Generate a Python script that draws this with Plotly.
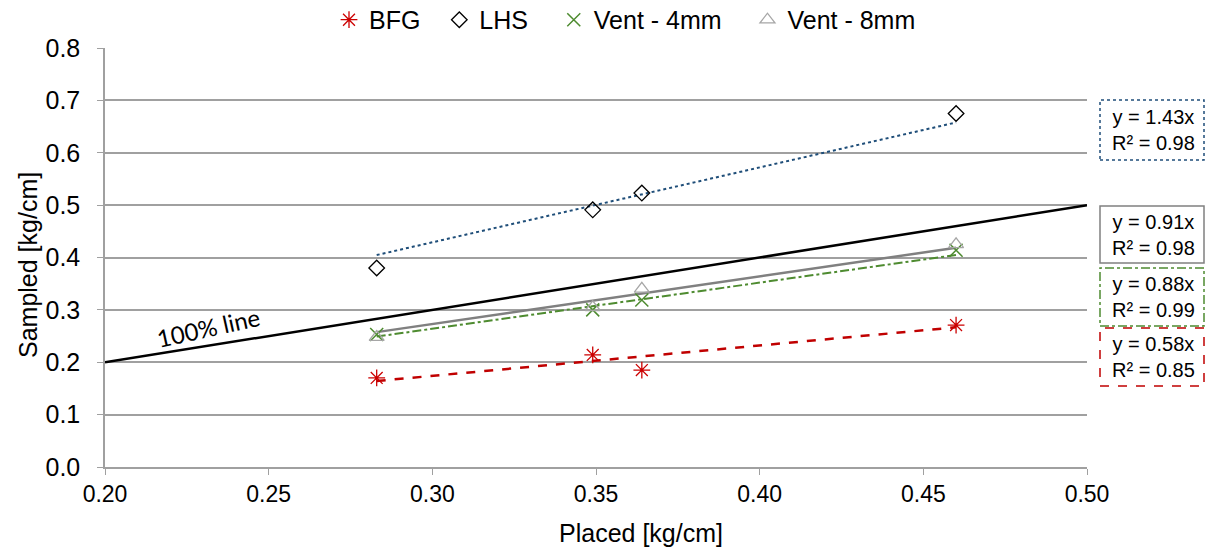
import plotly.graph_objects as go

placed = [0.283, 0.349, 0.364, 0.460]
bfg = [0.170, 0.214, 0.185, 0.271]
lhs = [0.380, 0.491, 0.523, 0.675]
vent4 = [0.253, 0.300, 0.319, 0.414]
vent8 = [0.248, 0.305, 0.340, 0.425]

slopes = {"LHS": 1.43, "Vent - 8mm": 0.91, "Vent - 4mm": 0.88, "BFG": 0.58}
r2 = {"LHS": 0.98, "Vent - 8mm": 0.98, "Vent - 4mm": 0.99, "BFG": 0.85}

line100_x = [0.20, 0.50]

FONT = "Liberation Sans, Arial, sans-serif"
NB = "\u00a0"
fig = go.Figure()

# 100% line
fig.add_trace(go.Scatter(x=line100_x, y=line100_x, mode="lines",
                         line=dict(color="black", width=2.5), showlegend=False, hoverinfo="skip"))

xmin, xmax = min(placed), max(placed)
trend_styles = {
    "LHS": dict(color="#1F4E79", width=2, dash="dot"),
    "Vent - 8mm": dict(color="#808080", width=2.5, dash="solid"),
    "Vent - 4mm": dict(color="#4E8B30", width=2, dash="dashdot"),
    "BFG": dict(color="#C00000", width=2.5, dash="dash"),
}
for name in ["LHS", "Vent - 4mm", "Vent - 8mm", "BFG"]:
    s = slopes[name]
    fig.add_trace(go.Scatter(x=[xmin, xmax], y=[s * xmin, s * xmax], mode="lines",
                             line=trend_styles[name], showlegend=False, hoverinfo="skip"))

series = [
    ("BFG", NB * 2, bfg, dict(symbol="asterisk-open", color="#CC0000", size=14, line=dict(color="#CC0000", width=1.3))),
    ("LHS", NB * 3, lhs, dict(symbol="diamond-open", color="black", size=12, line=dict(color="black", width=1.3))),
    ("Vent - 4mm", NB * 3, vent4, dict(symbol="x-thin-open", color="#4E8B30", size=13, line=dict(color="#4E8B30", width=1.5))),
    ("Vent - 8mm", "", vent8, dict(symbol="triangle-up-open", color="#A6A6A6", size=13, line=dict(color="#A6A6A6", width=1.3))),
]
for name, pad, ys, mk in series:
    fig.add_trace(go.Scatter(x=placed, y=ys, mode="markers", name=name + pad, marker=mk))

# Trendline label boxes (pixel-based paper coords)
L, R, T, B = 105, 1087, 48, 467
W, H = R - L, B - T
def px(x): return (x - L) / W
def py(y): return (B - y) / H

boxes = [
    ("LHS", 100, 160, dict(color="#1F4E79", width=1.5, dash="dot")),
    ("Vent - 8mm", 206, 263, dict(color="#808080", width=1.5, dash="solid")),
    ("Vent - 4mm", 268, 326, dict(color="#4E8B30", width=1.5, dash="dashdot")),
    ("BFG", 328, 386, dict(color="#C00000", width=1.5, dash="dash")),
]
shapes = []
annotations = []
for name, y0, y1, ln in boxes:
    shapes.append(dict(type="rect", xref="paper", yref="paper",
                       x0=px(1100), x1=px(1204), y0=py(y1), y1=py(y0), line=ln))
    annotations.append(dict(xref="paper", yref="paper", x=px(1153), y=py((y0 + y1) / 2),
                            xanchor="center", yanchor="middle",
                            text=f"y = {slopes[name]:.2f}x<br>R² = {r2[name]:.2f}",
                            showarrow=False, font=dict(family=FONT, size=20, color="black"),
                            align="center"))

annotations.append(dict(x=0.2315, y=0.266, xref="x", yref="y", text="100% line", showarrow=False,
                        xanchor="center", yanchor="middle",
                        textangle=-12.5, font=dict(family="Lato, Open Sans, sans-serif", size=24, color="black")))

# axis titles
annotations.append(dict(xref="paper", yref="paper", x=px(641), y=py(533), xanchor="center", yanchor="middle",
                        text="Placed [kg/cm]", showarrow=False, font=dict(family=FONT, size=25, color="black")))
annotations.append(dict(xref="paper", yref="paper", x=px(28), y=py(265), xanchor="center", yanchor="middle",
                        text="Sampled [kg/cm]", textangle=-90, showarrow=False,
                        font=dict(family=FONT, size=25, color="black")))

fig.update_layout(
    width=1207, height=552,
    margin=dict(l=L, r=1207 - R, t=T, b=552 - B, autoexpand=False),
    paper_bgcolor="white", plot_bgcolor="white",
    font=dict(family=FONT, size=22, color="black"),
    legend=dict(orientation="h", x=px(329), xanchor="left", y=1.012, yanchor="bottom",
                font=dict(size=25), itemwidth=30, tracegroupgap=0),
    shapes=shapes, annotations=annotations,
    xaxis=dict(range=[0.2, 0.5], tickvals=[0.20, 0.25, 0.30, 0.35, 0.40, 0.45, 0.50],
               tickformat=".2f", showgrid=False, zeroline=False, showline=True,
               linecolor="#A0A0A0", linewidth=1.5, ticks="outside", ticklen=6, tickcolor="#A0A0A0",
               tickfont=dict(size=23)),
    yaxis=dict(range=[0, 0.8], dtick=0.1, tickformat=".1f", showgrid=True, gridcolor="#A0A0A0",
               gridwidth=1.5, zeroline=False, showline=True, linecolor="#A0A0A0", linewidth=1.5,
               ticks="outside", ticklen=6, tickcolor="#A0A0A0", ticklabelstandoff=12,
               tickfont=dict(size=25)),
)

fig.write_html("out.html")
